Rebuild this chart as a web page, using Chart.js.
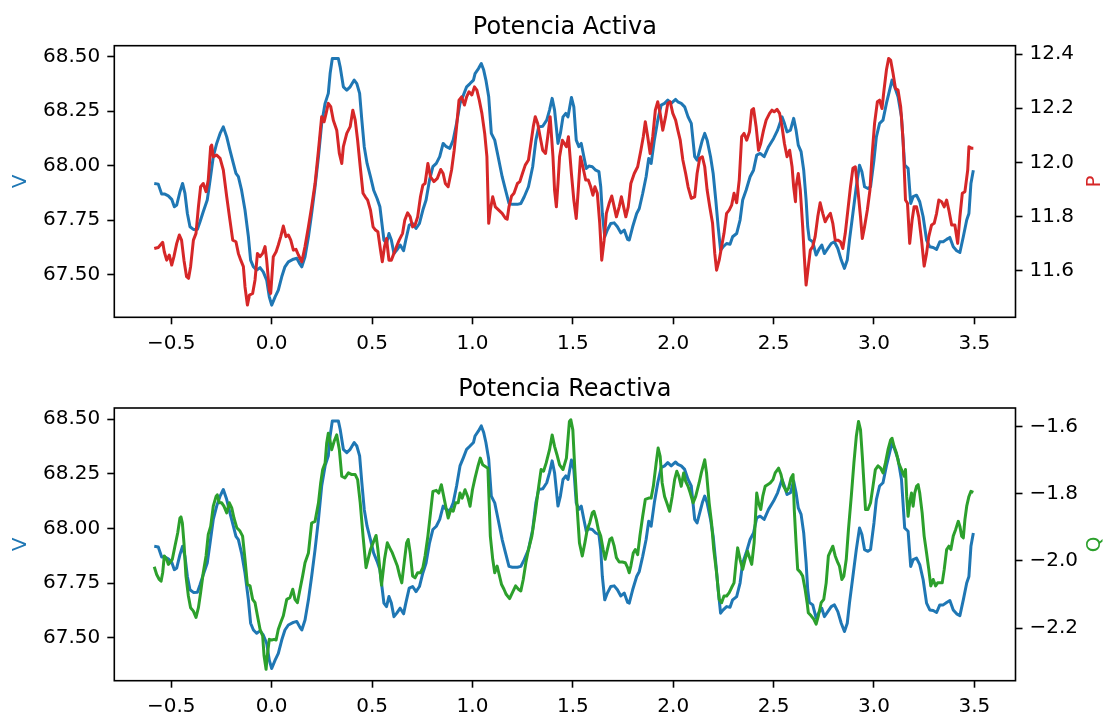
<!DOCTYPE html>
<html><head><meta charset="utf-8">
<script src="https://cdn.jsdelivr.net/npm/chart.js@4.4.1/dist/chart.umd.min.js"></script>
<style>
html,body{margin:0;padding:0;background:#fff;}
#wrap{position:relative;width:1109px;height:720px;overflow:hidden;background:#fff;}
canvas{position:absolute;left:0;}
</style></head><body>
<div id="wrap">
<canvas id="c1" width="1109" height="362" style="top:0px;width:1109px;height:362px"></canvas>
<canvas id="c2" width="1109" height="358" style="top:362px;width:1109px;height:358px"></canvas>
</div>
<script>
// ---- chart text ----
const titleTop = 'Potencia Activa';
const titleBottom = 'Potencia Reactiva';
const labelV = 'V', labelP = 'P', labelQ = 'Q';

// ---- tick values ----
const xTicks = [-0.5, 0, 0.5, 1, 1.5, 2, 2.5, 3, 3.5];
const vTicks = [67.5, 67.75, 68, 68.25, 68.5];
const pTicks = [11.6, 11.8, 12.0, 12.2, 12.4];
const qTicks = [-2.2, -2.0, -1.8, -1.6];

// ---- series: [time, value] ----
const voltage = [
[-0.585,67.918],[-0.565,67.915],[-0.548,67.869],[-0.532,67.869],[-0.515,67.861],[-0.498,67.845],[-0.485,67.811],[-0.473,67.819],[-0.457,67.880],[-0.444,67.918],
[-0.432,67.872],[-0.420,67.780],[-0.407,67.719],[-0.390,67.707],[-0.370,67.708],[-0.357,67.742],[-0.341,67.788],[-0.321,67.842],[-0.307,67.933],[-0.291,68.041],
[-0.274,68.102],[-0.257,68.148],[-0.241,68.178],[-0.224,68.132],[-0.208,68.071],[-0.191,68.010],[-0.178,67.964],[-0.166,67.949],[-0.150,67.887],[-0.133,67.796],
[-0.116,67.673],[-0.105,67.566],[-0.091,67.535],[-0.075,67.520],[-0.058,67.531],[-0.042,67.512],[-0.025,67.474],[-0.012,67.397],[0.000,67.359],[0.017,67.397],
[0.033,67.428],[0.050,67.489],[0.066,67.535],[0.083,67.558],[0.108,67.570],[0.125,67.574],[0.141,67.547],[0.150,67.535],[0.166,67.581],[0.183,67.673],
[0.199,67.780],[0.216,67.903],[0.233,68.041],[0.249,68.194],[0.266,68.286],[0.282,68.332],[0.291,68.423],[0.302,68.492],[0.332,68.492],[0.341,68.454],
[0.357,68.362],[0.374,68.347],[0.391,68.362],[0.411,68.393],[0.424,68.377],[0.438,68.332],[0.449,68.209],[0.461,68.087],[0.475,68.010],[0.492,67.949],
[0.508,67.887],[0.525,67.849],[0.539,67.811],[0.551,67.719],[0.559,67.658],[0.572,67.642],[0.584,67.688],[0.596,67.658],[0.609,67.596],[0.623,67.612],
[0.640,67.635],[0.657,67.609],[0.668,67.658],[0.685,67.727],[0.702,67.734],[0.719,67.711],[0.736,67.734],[0.753,67.796],[0.769,67.842],[0.786,67.933],
[0.803,67.995],[0.820,68.010],[0.837,68.041],[0.854,68.102],[0.870,68.087],[0.887,68.079],[0.904,68.117],[0.921,68.194],[0.938,68.286],[0.955,68.324],
[0.971,68.362],[0.988,68.377],[1.005,68.393],[1.013,68.423],[1.030,68.446],[1.044,68.469],[1.056,68.439],[1.067,68.393],[1.081,68.316],[1.094,68.148],
[1.111,68.117],[1.128,68.041],[1.148,67.949],[1.165,67.887],[1.182,67.826],[1.199,67.822],[1.224,67.822],[1.241,67.826],[1.258,67.857],[1.279,67.903],
[1.300,67.995],[1.316,68.117],[1.330,68.178],[1.350,68.181],[1.370,68.209],[1.384,68.255],[1.397,68.309],[1.409,68.255],[1.426,68.102],[1.438,68.148],
[1.451,68.224],[1.465,68.240],[1.476,68.224],[1.493,68.313],[1.505,68.270],[1.517,68.117],[1.530,68.087],[1.542,68.102],[1.555,68.041],[1.567,67.987],
[1.580,67.998],[1.597,67.995],[1.614,67.979],[1.630,67.972],[1.639,67.903],[1.647,67.780],[1.659,67.673],[1.672,67.704],[1.689,67.734],[1.706,67.737],
[1.722,67.719],[1.739,67.691],[1.756,67.704],[1.773,67.661],[1.781,67.658],[1.798,67.719],[1.818,67.780],[1.831,67.803],[1.848,67.872],[1.865,67.949],
[1.878,68.033],[1.890,68.010],[1.906,68.117],[1.923,68.209],[1.940,68.278],[1.957,68.286],[1.973,68.301],[1.990,68.286],[2.012,68.304],[2.023,68.293],
[2.040,68.286],[2.057,68.270],[2.074,68.224],[2.090,68.194],[2.107,68.041],[2.119,68.025],[2.132,68.071],[2.145,68.117],[2.157,68.148],[2.169,68.117],
[2.186,68.041],[2.199,67.964],[2.212,67.842],[2.224,67.719],[2.236,67.612],[2.249,67.627],[2.266,67.642],[2.283,67.639],[2.296,67.673],[2.316,67.688],
[2.333,67.750],[2.346,67.842],[2.363,67.887],[2.383,67.949],[2.400,67.979],[2.416,68.048],[2.433,68.056],[2.453,68.041],[2.475,68.087],[2.500,68.125],
[2.520,68.163],[2.542,68.224],[2.554,68.194],[2.567,68.155],[2.584,68.163],[2.600,68.217],[2.612,68.163],[2.623,68.094],[2.637,68.064],[2.650,67.979],
[2.662,67.842],[2.670,67.719],[2.678,67.661],[2.695,67.650],[2.712,67.589],[2.728,67.619],[2.740,67.635],[2.753,67.596],[2.770,67.619],[2.787,67.642],
[2.803,67.650],[2.820,67.619],[2.837,67.566],[2.853,67.528],[2.867,67.566],[2.878,67.658],[2.895,67.780],[2.912,67.903],[2.928,68.002],[2.940,67.972],
[2.953,67.903],[2.970,67.895],[2.983,67.903],[3.000,68.025],[3.012,68.132],[3.028,68.194],[3.045,68.209],[3.062,68.286],[3.078,68.347],[3.090,68.393],
[3.103,68.362],[3.120,68.316],[3.137,68.224],[3.153,68.002],[3.170,67.987],[3.183,67.826],[3.195,67.857],[3.212,67.864],[3.228,67.834],[3.245,67.765],
[3.262,67.658],[3.278,67.627],[3.295,67.624],[3.312,67.615],[3.328,67.650],[3.345,67.650],[3.362,67.661],[3.378,67.670],[3.395,67.627],[3.412,67.609],
[3.428,67.601],[3.445,67.673],[3.462,67.750],[3.473,67.780],[3.483,67.918],[3.495,67.979]
];

const activePower = [
[-0.585,11.682],[-0.565,11.686],[-0.543,11.705],[-0.535,11.670],[-0.523,11.639],[-0.510,11.658],[-0.498,11.621],[-0.487,11.652],[-0.473,11.701],[-0.460,11.732],
[-0.449,11.713],[-0.437,11.639],[-0.424,11.578],[-0.414,11.572],[-0.404,11.615],[-0.390,11.713],[-0.377,11.738],[-0.365,11.836],[-0.354,11.910],[-0.341,11.922],
[-0.327,11.892],[-0.316,11.935],[-0.304,12.058],[-0.299,12.064],[-0.291,12.021],[-0.274,12.027],[-0.257,12.015],[-0.241,11.972],[-0.224,11.873],[-0.208,11.787],
[-0.194,11.713],[-0.178,11.707],[-0.166,11.664],[-0.154,11.639],[-0.141,11.615],[-0.133,11.541],[-0.121,11.473],[-0.111,11.510],[-0.095,11.516],[-0.083,11.566],
[-0.071,11.664],[-0.058,11.652],[-0.045,11.664],[-0.033,11.689],[-0.025,11.639],[-0.012,11.529],[-0.005,11.516],[0.008,11.652],[0.022,11.670],[0.033,11.695],
[0.045,11.726],[0.058,11.765],[0.071,11.726],[0.083,11.732],[0.095,11.713],[0.108,11.676],[0.121,11.679],[0.133,11.658],[0.150,11.633],[0.166,11.689],
[0.183,11.762],[0.199,11.836],[0.216,11.922],[0.233,12.045],[0.249,12.169],[0.261,12.150],[0.271,12.181],[0.282,12.218],[0.294,12.206],[0.307,12.156],
[0.324,12.119],[0.337,12.033],[0.349,11.996],[0.357,12.058],[0.374,12.107],[0.391,12.132],[0.404,12.193],[0.416,12.156],[0.428,12.082],[0.441,11.984],
[0.455,11.886],[0.466,11.873],[0.478,11.861],[0.492,11.824],[0.505,11.762],[0.517,11.750],[0.529,11.744],[0.542,11.676],[0.551,11.633],[0.562,11.689],
[0.572,11.719],[0.584,11.639],[0.596,11.639],[0.609,11.664],[0.623,11.691],[0.635,11.713],[0.652,11.738],[0.663,11.787],[0.677,11.814],[0.690,11.799],
[0.702,11.762],[0.714,11.769],[0.727,11.799],[0.741,11.873],[0.753,11.916],[0.764,11.922],[0.778,11.996],[0.791,11.947],[0.808,11.929],[0.825,11.941],
[0.842,11.974],[0.854,11.959],[0.865,11.922],[0.879,11.910],[0.896,11.972],[0.909,12.045],[0.921,12.132],[0.933,12.230],[0.946,12.242],[0.960,12.212],
[0.971,12.242],[0.983,12.261],[0.997,12.249],[1.010,12.279],[1.022,12.267],[1.034,12.230],[1.047,12.181],[1.061,12.107],[1.072,12.021],[1.081,11.775],
[1.089,11.824],[1.101,11.873],[1.114,11.836],[1.131,11.824],[1.148,11.812],[1.165,11.793],[1.173,11.790],[1.182,11.836],[1.195,11.876],[1.207,11.886],
[1.224,11.922],[1.236,11.929],[1.249,11.959],[1.263,11.990],[1.279,12.009],[1.291,12.070],[1.303,12.132],[1.313,12.169],[1.325,12.144],[1.337,12.095],
[1.350,12.045],[1.364,12.033],[1.375,12.095],[1.387,12.169],[1.401,12.021],[1.409,11.898],[1.418,11.836],[1.426,11.922],[1.434,12.021],[1.448,12.082],
[1.468,12.058],[1.478,12.095],[1.493,11.959],[1.505,11.861],[1.517,11.793],[1.527,11.898],[1.538,12.021],[1.550,11.984],[1.564,11.935],[1.577,11.935],
[1.589,11.910],[1.600,11.879],[1.610,11.910],[1.622,11.886],[1.634,11.775],[1.644,11.639],[1.656,11.713],[1.667,11.812],[1.681,11.849],[1.694,11.876],
[1.706,11.836],[1.717,11.799],[1.731,11.836],[1.742,11.873],[1.753,11.836],[1.764,11.799],[1.776,11.836],[1.789,11.922],[1.806,11.959],[1.823,11.984],
[1.839,12.045],[1.851,12.095],[1.861,12.150],[1.873,12.095],[1.885,12.033],[1.898,12.095],[1.911,12.193],[1.923,12.224],[1.935,12.181],[1.948,12.119],
[1.962,12.169],[1.973,12.218],[1.985,12.224],[1.998,12.181],[2.012,12.156],[2.023,12.119],[2.035,12.082],[2.048,12.009],[2.062,11.959],[2.074,11.910],
[2.090,11.867],[2.107,11.873],[2.119,11.959],[2.132,12.015],[2.145,12.021],[2.157,11.984],[2.169,11.898],[2.182,11.836],[2.196,11.775],[2.207,11.664],
[2.216,11.602],[2.229,11.639],[2.241,11.689],[2.253,11.738],[2.266,11.812],[2.279,11.824],[2.291,11.842],[2.303,11.886],[2.316,11.851],[2.329,11.935],
[2.341,12.095],[2.353,12.107],[2.366,12.082],[2.380,12.113],[2.391,12.193],[2.400,12.199],[2.413,12.132],[2.425,12.045],[2.436,12.070],[2.450,12.119],
[2.463,12.156],[2.480,12.181],[2.492,12.193],[2.503,12.187],[2.517,12.196],[2.530,12.181],[2.542,12.132],[2.554,12.070],[2.567,12.021],[2.580,12.045],
[2.592,11.984],[2.600,11.910],[2.609,11.855],[2.612,11.910],[2.623,11.959],[2.633,11.898],[2.645,11.762],[2.653,11.652],[2.662,11.547],[2.673,11.615],
[2.683,11.676],[2.695,11.689],[2.707,11.726],[2.720,11.799],[2.732,11.851],[2.745,11.812],[2.757,11.781],[2.770,11.799],[2.783,11.812],[2.795,11.775],
[2.807,11.713],[2.820,11.713],[2.833,11.707],[2.845,11.682],[2.857,11.738],[2.870,11.824],[2.883,11.910],[2.895,11.978],[2.907,11.984],[2.920,11.898],
[2.933,11.799],[2.942,11.719],[2.953,11.762],[2.967,11.824],[2.980,11.898],[2.990,12.021],[3.003,12.144],[3.017,12.224],[3.028,12.230],[3.040,12.199],
[3.050,12.267],[3.062,12.341],[3.073,12.384],[3.083,12.378],[3.095,12.329],[3.107,12.273],[3.120,12.267],[3.133,12.206],[3.145,12.082],[3.157,11.861],
[3.167,11.849],[3.178,11.701],[3.190,11.787],[3.200,11.836],[3.212,11.836],[3.223,11.799],[3.237,11.713],[3.250,11.617],[3.262,11.664],[3.273,11.726],
[3.287,11.769],[3.300,11.775],[3.312,11.812],[3.323,11.861],[3.337,11.855],[3.350,11.836],[3.362,11.861],[3.373,11.824],[3.387,11.769],[3.403,11.769],
[3.417,11.701],[3.428,11.799],[3.440,11.886],[3.453,11.892],[3.467,11.972],[3.473,12.058],[3.487,12.052],[3.495,12.052]
];

const reactivePower = [
[-0.585,-2.017],[-0.573,-2.040],[-0.560,-2.055],[-0.551,-2.060],[-0.543,-2.035],[-0.535,-1.985],[-0.523,-1.995],[-0.515,-2.010],[-0.507,-2.005],[-0.495,-1.995],
[-0.482,-1.956],[-0.468,-1.916],[-0.457,-1.872],[-0.452,-1.869],[-0.445,-1.887],[-0.437,-1.946],[-0.427,-2.045],[-0.415,-2.104],[-0.404,-2.139],[-0.390,-2.149],
[-0.377,-2.168],[-0.365,-2.139],[-0.354,-2.094],[-0.341,-2.035],[-0.327,-1.985],[-0.316,-1.921],[-0.304,-1.897],[-0.291,-1.837],[-0.277,-1.808],[-0.271,-1.803],
[-0.261,-1.827],[-0.249,-1.827],[-0.238,-1.837],[-0.224,-1.857],[-0.211,-1.827],[-0.199,-1.842],[-0.188,-1.872],[-0.174,-1.901],[-0.158,-1.911],[-0.145,-1.926],
[-0.133,-1.995],[-0.121,-2.070],[-0.108,-2.074],[-0.095,-2.114],[-0.083,-2.124],[-0.071,-2.163],[-0.058,-2.203],[-0.045,-2.223],[-0.038,-2.282],[-0.028,-2.322],
[-0.022,-2.282],[-0.012,-2.233],[0.000,-2.235],[0.012,-2.233],[0.022,-2.235],[0.033,-2.203],[0.045,-2.183],[0.058,-2.163],[0.075,-2.114],[0.091,-2.109],
[0.105,-2.084],[0.116,-2.114],[0.128,-2.124],[0.141,-2.084],[0.154,-2.045],[0.166,-2.005],[0.183,-1.976],[0.199,-1.887],[0.216,-1.882],[0.233,-1.827],
[0.244,-1.768],[0.254,-1.728],[0.266,-1.709],[0.274,-1.649],[0.282,-1.620],[0.291,-1.644],[0.299,-1.669],[0.311,-1.644],[0.324,-1.625],[0.337,-1.669],
[0.349,-1.748],[0.365,-1.753],[0.382,-1.738],[0.399,-1.743],[0.416,-1.743],[0.428,-1.758],[0.441,-1.827],[0.455,-1.926],[0.470,-2.020],[0.480,-1.995],
[0.492,-1.966],[0.505,-1.946],[0.520,-1.924],[0.529,-1.966],[0.539,-2.025],[0.547,-2.072],[0.562,-1.995],[0.576,-1.946],[0.588,-1.961],[0.601,-1.976],
[0.613,-1.995],[0.626,-2.015],[0.638,-2.045],[0.648,-2.065],[0.660,-2.005],[0.672,-1.946],[0.680,-1.936],[0.690,-1.976],[0.702,-2.045],[0.714,-2.050],
[0.727,-2.035],[0.741,-2.035],[0.753,-2.020],[0.764,-1.985],[0.778,-1.926],[0.791,-1.857],[0.803,-1.793],[0.820,-1.790],[0.832,-1.798],[0.845,-1.773],
[0.857,-1.808],[0.870,-1.847],[0.879,-1.872],[0.892,-1.847],[0.904,-1.852],[0.916,-1.827],[0.929,-1.827],[0.938,-1.798],[0.949,-1.813],[0.963,-1.788],
[0.976,-1.808],[0.988,-1.837],[1.000,-1.788],[1.013,-1.753],[1.027,-1.719],[1.039,-1.694],[1.051,-1.714],[1.064,-1.719],[1.077,-1.724],[1.089,-1.926],
[1.101,-1.995],[1.111,-2.035],[1.123,-2.015],[1.131,-2.035],[1.145,-2.070],[1.157,-2.084],[1.168,-2.099],[1.185,-2.112],[1.199,-2.094],[1.215,-2.074],
[1.229,-2.084],[1.241,-2.089],[1.253,-2.055],[1.266,-2.005],[1.279,-1.966],[1.296,-1.926],[1.313,-1.857],[1.330,-1.778],[1.342,-1.728],[1.354,-1.733],
[1.367,-1.709],[1.384,-1.669],[1.397,-1.625],[1.409,-1.659],[1.421,-1.684],[1.434,-1.714],[1.451,-1.728],[1.468,-1.694],[1.483,-1.585],[1.490,-1.580],
[1.500,-1.610],[1.510,-1.728],[1.522,-1.847],[1.533,-1.946],[1.547,-1.985],[1.560,-1.946],[1.572,-1.906],[1.584,-1.887],[1.597,-1.857],[1.605,-1.852],
[1.617,-1.877],[1.627,-1.906],[1.639,-1.926],[1.651,-1.966],[1.661,-1.995],[1.672,-1.966],[1.684,-1.936],[1.694,-1.931],[1.706,-1.956],[1.717,-1.990],
[1.731,-2.003],[1.747,-2.003],[1.761,-2.005],[1.773,-2.020],[1.781,-2.035],[1.789,-2.015],[1.801,-1.976],[1.811,-1.966],[1.823,-1.981],[1.834,-1.926],
[1.848,-1.867],[1.861,-1.817],[1.878,-1.813],[1.890,-1.813],[1.901,-1.778],[1.915,-1.709],[1.925,-1.664],[1.935,-1.689],[1.945,-1.768],[1.957,-1.808],
[1.968,-1.827],[1.982,-1.852],[1.995,-1.808],[2.007,-1.758],[2.018,-1.733],[2.028,-1.748],[2.040,-1.778],[2.052,-1.738],[2.062,-1.763],[2.074,-1.778],
[2.085,-1.798],[2.099,-1.827],[2.112,-1.808],[2.129,-1.768],[2.140,-1.738],[2.157,-1.699],[2.166,-1.738],[2.179,-1.827],[2.191,-1.887],[2.202,-1.966],
[2.216,-2.035],[2.229,-2.114],[2.241,-2.124],[2.253,-2.104],[2.266,-2.104],[2.279,-2.094],[2.291,-2.079],[2.303,-2.065],[2.313,-2.005],[2.321,-1.961],
[2.333,-1.995],[2.346,-2.025],[2.358,-1.995],[2.370,-1.971],[2.383,-1.995],[2.391,-2.010],[2.403,-1.946],[2.416,-1.798],[2.425,-1.827],[2.436,-1.847],
[2.446,-1.808],[2.458,-1.778],[2.470,-1.773],[2.483,-1.768],[2.497,-1.758],[2.508,-1.738],[2.525,-1.724],[2.537,-1.743],[2.550,-1.778],[2.564,-1.793],
[2.575,-1.783],[2.587,-1.753],[2.597,-1.743],[2.603,-1.847],[2.612,-1.946],[2.620,-2.025],[2.633,-2.033],[2.645,-2.045],[2.657,-2.084],[2.667,-2.124],
[2.673,-2.154],[2.687,-2.163],[2.700,-2.173],[2.712,-2.188],[2.723,-2.163],[2.737,-2.124],[2.750,-2.114],[2.762,-2.065],[2.773,-1.985],[2.787,-1.966],
[2.795,-1.956],[2.807,-1.985],[2.820,-2.005],[2.828,-2.015],[2.840,-2.055],[2.850,-2.045],[2.862,-1.995],[2.873,-1.906],[2.887,-1.808],[2.900,-1.709],
[2.912,-1.630],[2.923,-1.585],[2.933,-1.610],[2.942,-1.689],[2.950,-1.768],[2.958,-1.847],[2.970,-1.847],[2.983,-1.827],[2.995,-1.778],[3.007,-1.728],
[3.020,-1.717],[3.033,-1.724],[3.045,-1.738],[3.057,-1.709],[3.070,-1.669],[3.083,-1.640],[3.090,-1.635],[3.100,-1.659],[3.112,-1.679],[3.123,-1.709],
[3.137,-1.728],[3.150,-1.748],[3.157,-1.728],[3.163,-1.808],[3.170,-1.867],[3.178,-1.827],[3.187,-1.798],[3.195,-1.837],[3.203,-1.798],[3.212,-1.778],
[3.220,-1.773],[3.228,-1.798],[3.240,-1.857],[3.250,-1.926],[3.262,-1.976],[3.273,-2.025],[3.283,-2.074],[3.295,-2.055],[3.307,-2.074],[3.317,-2.065],
[3.328,-2.065],[3.340,-2.065],[3.350,-2.025],[3.362,-1.966],[3.373,-1.956],[3.383,-1.966],[3.395,-1.926],[3.407,-1.906],[3.420,-1.882],[3.428,-1.897],
[3.437,-1.926],[3.445,-1.931],[3.453,-1.877],[3.462,-1.837],[3.473,-1.808],[3.483,-1.793],[3.495,-1.796]
];

// ---- rendering ----
const FONT = '"DejaVu Sans", "Liberation Sans", sans-serif';
const C_BLUE = '#1f77b4', C_RED = '#d62728', C_GREEN = '#2ca02c';
const toXY = arr => arr.map(p => ({x: p[0], y: p[1]}));
const fmt = (v, d) => v.toFixed(d).replace('-', '\u2212');

function gridOpts() {
  return {drawOnChartArea: false, drawTicks: true, tickLength: 7, tickWidth: 1.6, tickColor: '#000', color: '#000'};
}
function tickFont() { return {family: FONT, size: 20}; }

function yScale(pos, range, tickVals, dec, width) {
  return {
    type: 'linear', position: pos, min: range[0], max: range[1],
    afterBuildTicks: s => { s.ticks = tickVals.map(v => ({value: v})); },
    afterFit: s => { s.width = width; },
    ticks: {font: tickFont(), color: '#000', padding: 7, autoSkip: false, callback: v => fmt(v, dec)},
    grid: gridOpts(),
    border: {display: false}
  };
}

function makeChart(id, cfg) {
  const deco = {
    id: 'deco_' + id,
    afterDraw(chart) {
      const ctx = chart.ctx, a = chart.chartArea;
      ctx.save();
      ctx.strokeStyle = '#000';
      ctx.lineWidth = 1.6;
      ctx.strokeRect(a.left, a.top, a.right - a.left, a.bottom - a.top);
      ctx.fillStyle = '#000';
      ctx.font = '24px ' + FONT;
      ctx.textAlign = 'center';
      ctx.textBaseline = 'alphabetic';
      ctx.fillText(cfg.title, (a.left + a.right) / 2, a.top - 12);
      ctx.font = '20px ' + FONT;
      const cy = (a.top + a.bottom) / 2;
      ctx.save(); ctx.translate(25.5, cy); ctx.rotate(-Math.PI / 2);
      ctx.fillStyle = cfg.leftColor; ctx.fillText(cfg.leftLabel, 0, 0); ctx.restore();
      ctx.save(); ctx.translate(1099.5, cy); ctx.rotate(-Math.PI / 2);
      ctx.fillStyle = cfg.rightColor; ctx.fillText(cfg.rightLabel, 0, 0); ctx.restore();
      ctx.restore();
    }
  };
  const line = (data, color, axis) => ({
    data: toXY(data), yAxisID: axis, borderColor: color, backgroundColor: color,
    borderWidth: 3, pointRadius: 0, tension: 0, fill: false,
    borderJoinStyle: 'round', borderCapStyle: 'butt'
  });
  return new Chart(document.getElementById(id), {
    type: 'line',
    data: {datasets: [
      line(cfg.rightData, cfg.rightColor, 'yR'),
      line(cfg.leftData, cfg.leftColor, 'yL')
    ]},
    options: {
      responsive: false, animation: false, devicePixelRatio: 1,
      layout: {padding: {top: cfg.top, left: 0, right: 0, bottom: 0}},
      plugins: {legend: {display: false}, tooltip: {enabled: false}, title: {display: false}},
      scales: {
        x: {
          type: 'linear', position: 'bottom', min: -0.784, max: 3.705,
          afterBuildTicks: s => { s.ticks = xTicks.map(v => ({value: v})); },
          afterFit: s => { s.height = cfg.xHeight; },
          ticks: {font: tickFont(), color: '#000', padding: 7, autoSkip: false, maxRotation: 0, minRotation: 0, callback: v => fmt(v, 1)},
          grid: gridOpts(),
          border: {display: false}
        },
        yL: yScale('left', [67.303, 68.551], vTicks, 2, 114.3),
        yR: yScale('right', cfg.rightRange, cfg.rightTicks, 1, 93.5)
      }
    },
    plugins: [deco]
  });
}

makeChart('c1', {
  title: titleTop, top: 45.7, xHeight: 362 - 317.3,
  leftLabel: labelV, leftColor: C_BLUE, leftData: voltage,
  rightLabel: labelP, rightColor: C_RED, rightData: activePower,
  rightRange: [11.428, 12.431], rightTicks: pTicks
});
makeChart('c2', {
  title: titleBottom, top: 46, xHeight: 358 - 318.7,
  leftLabel: labelV, leftColor: C_BLUE, leftData: voltage,
  rightLabel: labelQ, rightColor: C_GREEN, rightData: reactivePower,
  rightRange: [-2.356, -1.545], rightTicks: qTicks
});
</script>
</body></html>
